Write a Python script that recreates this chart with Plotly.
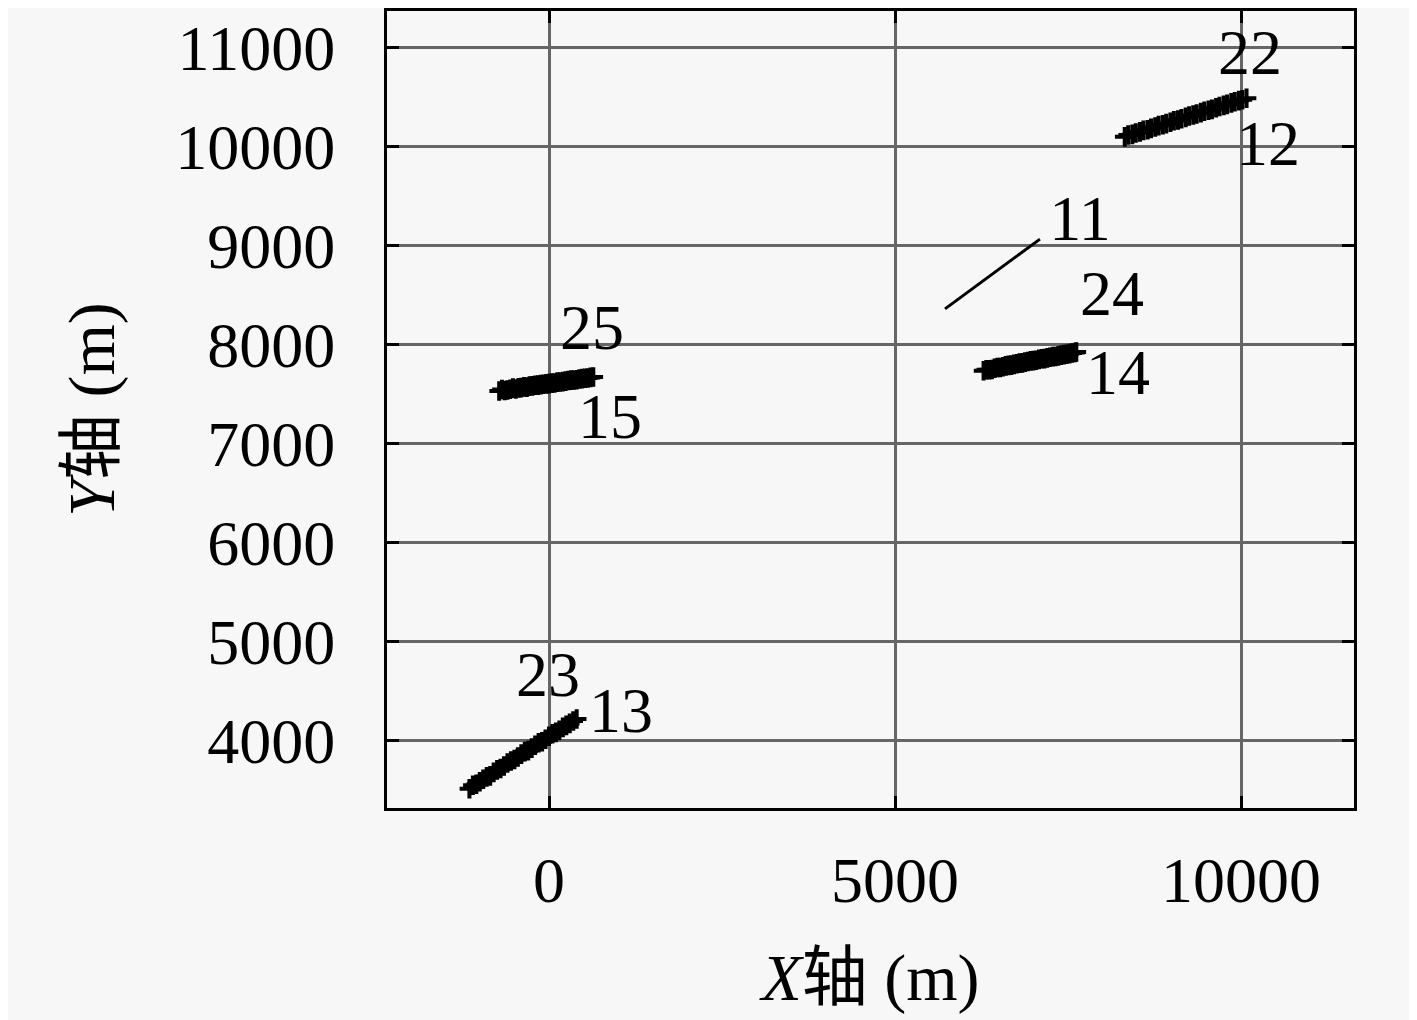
import plotly.graph_objects as go

# track pairs (m)
t13_x = [-1150, -1050, -950, -850, -750, -650, -550, -450, -350, -250, -150, -50, 50, 150, 250, 350]
t13_y = [3510, 3555, 3605, 3640, 3700, 3740, 3790, 3830, 3885, 3920, 3975, 4010, 4065, 4100, 4150, 4195]
t23_x = [-1100, -1000, -900, -800, -700, -600, -500, -400, -300, -200, -100, 0, 100, 200, 300, 400]
t23_y = [3545, 3580, 3630, 3675, 3715, 3770, 3805, 3860, 3895, 3950, 3985, 4040, 4080, 4130, 4170, 4215]

t15_x = [-720, -640, -560, -480, -400, -320, -240, -160, -80, 0, 80, 160, 240, 320, 400, 480, 560, 640]
t15_y = [7530, 7535, 7548, 7550, 7565, 7570, 7582, 7590, 7598, 7605, 7612, 7622, 7630, 7640, 7645, 7656, 7662, 7672]
t25_x = [-680, -600, -520, -440, -360, -280, -200, -120, -40, 40, 120, 200, 280, 360, 440, 520, 600]
t25_y = [7545, 7540, 7560, 7562, 7572, 7580, 7588, 7595, 7603, 7610, 7620, 7625, 7637, 7642, 7652, 7660, 7668]

t14_x = [6280, 6360, 6440, 6520, 6600, 6680, 6760, 6840, 6920, 7000, 7080, 7160, 7240, 7320, 7400, 7480, 7560, 7620]
t14_y = [7735, 7745, 7760, 7768, 7785, 7792, 7806, 7815, 7828, 7838, 7850, 7858, 7872, 7880, 7893, 7902, 7915, 7925]
t24_x = [6320, 6400, 6480, 6560, 6640, 6720, 6800, 6880, 6960, 7040, 7120, 7200, 7280, 7360, 7440, 7520, 7600]
t24_y = [7745, 7748, 7768, 7775, 7790, 7800, 7812, 7822, 7835, 7842, 7856, 7865, 7878, 7886, 7898, 7908, 7920]

t12_x = [8320, 8430, 8540, 8650, 8760, 8870, 8980, 9090, 9200, 9310, 9420, 9530, 9640, 9750, 9860, 9970, 10080]
t12_y = [10100, 10125, 10150, 10172, 10200, 10222, 10248, 10270, 10297, 10320, 10345, 10368, 10394, 10418, 10443, 10466, 10490]
t22_x = [8370, 8480, 8590, 8700, 8810, 8920, 9030, 9140, 9250, 9360, 9470, 9580, 9690, 9800, 9910, 10020]
t22_y = [10118, 10138, 10165, 10185, 10213, 10233, 10262, 10282, 10310, 10330, 10358, 10378, 10406, 10428, 10455, 10475]

t11_x = [5723, 6000, 6300, 6600, 6900, 7095]
t11_y = [8361, 8505, 8660, 8812, 8966, 9066]

label_text = ["22", "12", "11", "24", "14", "25", "15", "23", "13"]
label_x = [10130, 10390, 7673, 8136, 8223, 621, 881, -14, 1040]
label_y = [10899, 9972, 9217, 8462, 7666, 8119, 7213, 4614, 4242]

x_ticks = [0, 5000, 10000]
y_ticks = [4000, 5000, 6000, 7000, 8000, 9000, 10000, 11000]

FONT = "Liberation Serif, Noto Sans CJK SC"
BG = "#f7f7f7"

fig = go.Figure()
for xs, ys in [(t13_x, t13_y), (t23_x, t23_y), (t15_x, t15_y), (t25_x, t25_y),
               (t14_x, t14_y), (t24_x, t24_y), (t12_x, t12_y), (t22_x, t22_y)]:
    fig.add_trace(go.Scatter(x=xs, y=ys, mode="markers",
                             marker=dict(symbol="cross-thin", size=14,
                                         line=dict(color="black", width=4)),
                             showlegend=False, hoverinfo="skip"))
fig.add_trace(go.Scatter(x=t11_x, y=t11_y, mode="lines",
                         line=dict(color="black", width=3), showlegend=False))
fig.add_trace(go.Scatter(x=label_x, y=label_y, mode="text", text=label_text,
                         textfont=dict(family=FONT, size=64, color="black"),
                         showlegend=False, hoverinfo="skip"))

axis_common = dict(showgrid=True, gridcolor="#666666", gridwidth=3, zeroline=False,
                   showline=True, linecolor="black", linewidth=3, mirror="allticks",
                   ticks="inside", ticklen=12, tickwidth=3, tickcolor="black",
                   tickfont=dict(family=FONT, size=64, color="black"))
fig.update_xaxes(range=[-2341, 11633], tickvals=x_ticks, ticktext=[str(v) for v in x_ticks],
                 ticklabelstandoff=14,
                 title=dict(text="<i>X</i>轴 (m)", font=dict(family=FONT, size=66, color="black"),
                            standoff=40),
                 **axis_common)
fig.update_yaxes(range=[3315, 11372], tickvals=y_ticks, ticktext=[str(v) for v in y_ticks],
                 ticklabelstandoff=36,
                 title=dict(text="<i>Y</i>轴 (m)", font=dict(family=FONT, size=66, color="black"),
                            standoff=40),
                 **axis_common)
fig.update_layout(width=1417, height=1020, paper_bgcolor=BG, plot_bgcolor=BG,
                  margin=dict(l=379, r=71, t=0, b=220))
fig.write_html("out.html")
